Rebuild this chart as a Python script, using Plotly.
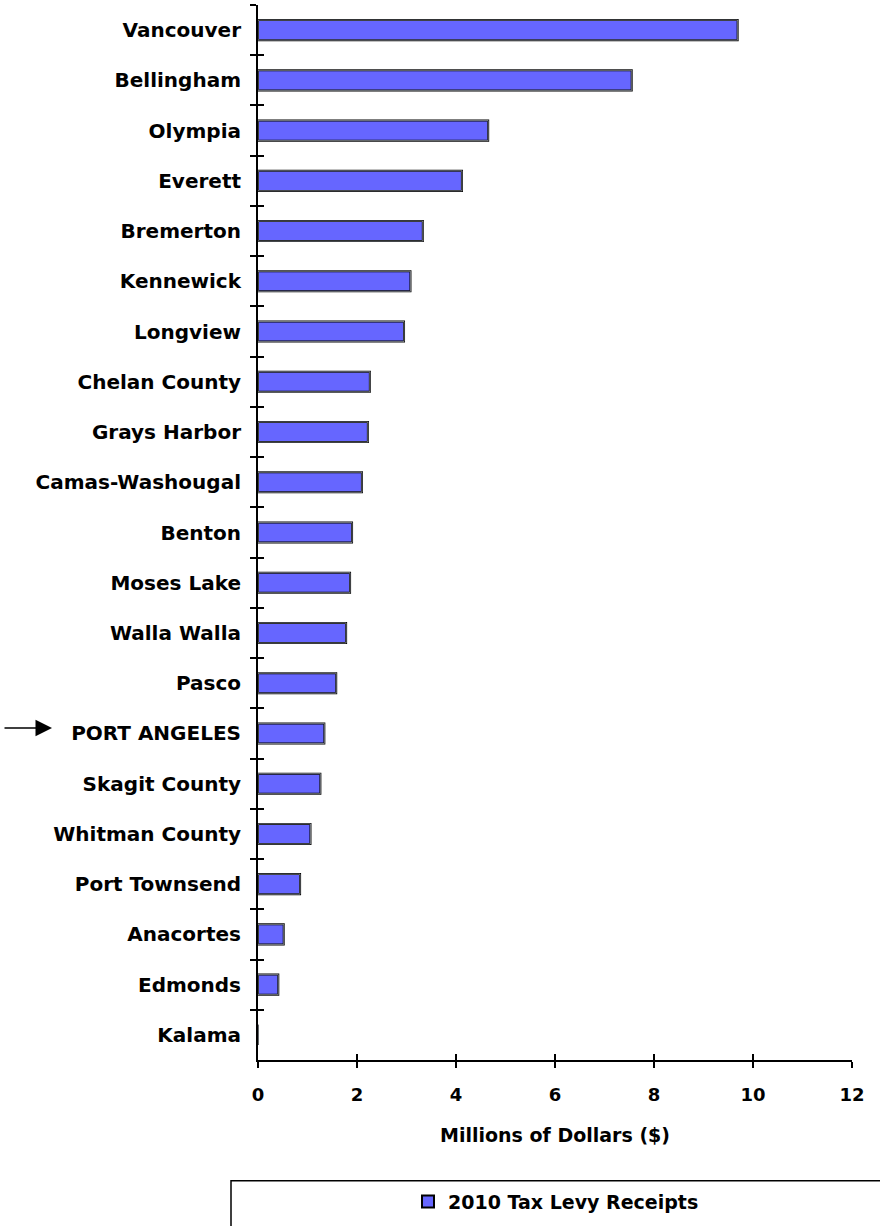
import plotly.graph_objects as go

cities = ["Vancouver", "Bellingham", "Olympia", "Everett", "Bremerton", "Kennewick",
          "Longview", "Chelan County", "Grays Harbor", "Camas-Washougal", "Benton",
          "Moses Lake", "Walla Walla", "Pasco", "PORT ANGELES", "Skagit County",
          "Whitman County", "Port Townsend", "Anacortes", "Edmonds", "Kalama"]
receipts = [9.69, 7.55, 4.65, 4.12, 3.33, 3.08, 2.95, 2.26, 2.22, 2.10, 1.90,
            1.86, 1.78, 1.58, 1.34, 1.26, 1.06, 0.85, 0.52, 0.41, 0.0]
series_name = "2010 Tax Levy Receipts"
x_ticks = [0, 2, 4, 6, 8, 10, 12]
x_title = "Millions of Dollars ($)"

W, H = 880, 1226
L, R, T, B = 258, 28, 5, 163
pw, ph = W - L - R, H - T - B

def px_x(p):
    return (p - L) / pw

def px_y(p):
    return (H - B - p) / ph

FONT = "DejaVu Sans"
fig = go.Figure()
fig.add_trace(go.Bar(
    x=receipts, y=cities, orientation="h", name=series_name,
    marker=dict(color="#6666FF", line=dict(color="black", width=2)),
    width=0.4, showlegend=True,
))
# invisible copy to drive the overlay axes (inside half of the crossing ticks)
fig.add_trace(go.Bar(
    x=receipts, y=cities, orientation="h", xaxis="x2", yaxis="y2",
    marker=dict(color="rgba(0,0,0,0)"), width=0.4, showlegend=False, hoverinfo="skip",
))

yr = [len(cities) - 0.5, -0.5]
fig.update_layout(
    width=W, height=H,
    margin=dict(l=L, r=R, t=T, b=B),
    plot_bgcolor="white", paper_bgcolor="white",
    font=dict(family=FONT, size=19, color="black", weight="bold"),
    xaxis=dict(range=[0, 12], tickvals=x_ticks, ticks="outside", ticklen=6, tickwidth=2,
               tickcolor="black", showline=True, linecolor="black", linewidth=2,
               showgrid=False, zeroline=False,
               tickfont=dict(family=FONT, size=18, weight="bold"),
               ticklabelstandoff=11,
               title=dict(text=x_title, standoff=25,
                          font=dict(family=FONT, size=19, weight="bold"))),
    yaxis=dict(type="category", categoryorder="array", categoryarray=cities, range=yr,
               ticks="outside", tickson="boundaries", ticklen=6, tickwidth=2,
               tickcolor="black", showline=True, linecolor="black", linewidth=2,
               showgrid=False, zeroline=False, ticklabelstandoff=11,
               tickfont=dict(family=FONT, size=20, weight="bold")),
    xaxis2=dict(overlaying="x", side="bottom", range=[0, 12], tickvals=x_ticks,
                ticks="inside", ticklen=6, tickwidth=2, tickcolor="black",
                showticklabels=False, showline=False, showgrid=False, zeroline=False),
    yaxis2=dict(overlaying="y", side="left", type="category", categoryorder="array",
                categoryarray=cities, range=yr, ticks="inside", tickson="boundaries",
                ticklen=6, tickwidth=2, tickcolor="black", showticklabels=False,
                showline=False, showgrid=False, zeroline=False),
    bargap=0.6,
    legend=dict(orientation="h", x=px_x(556), xanchor="center", y=px_y(1205),
                yanchor="middle", bgcolor="rgba(0,0,0,0)",
                font=dict(family=FONT, size=19, weight="bold")),
    shapes=[dict(type="rect", xref="paper", yref="paper",
                 x0=px_x(231), x1=px_x(895), y0=px_y(1184), y1=px_y(1245),
                 line=dict(color="black", width=1.5), fillcolor="rgba(0,0,0,0)")],
    annotations=[dict(xref="paper", yref="paper", x=px_x(52), y=px_y(730),
                      ax=-49, ay=0, axref="pixel", ayref="pixel", text="",
                      showarrow=True, arrowhead=2, arrowsize=2.2, arrowwidth=1.5,
                      arrowcolor="black")],
)
fig.write_html("out.html")
